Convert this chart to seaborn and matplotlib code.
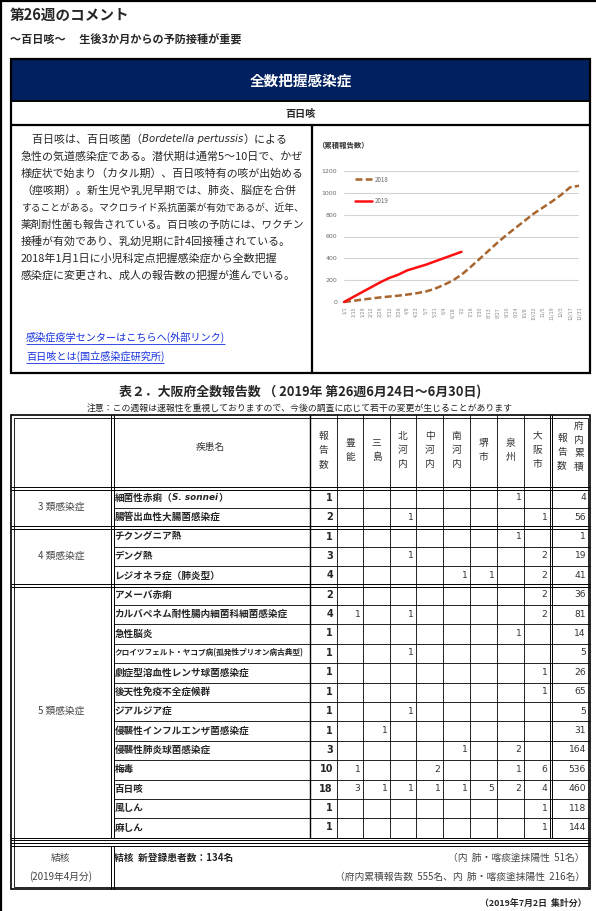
import numpy as np
import pandas as pd
import matplotlib
matplotlib.use("Agg")
import matplotlib.pyplot as plt
from matplotlib.patches import Rectangle
import seaborn as sns

# ---------------- chart data ----------------
chart_dates = ["1/1", "1/15", "1/29", "2/12", "2/26", "3/12", "3/26", "4/9", "4/23",
               "5/7", "5/21", "6/4", "6/18", "7/2", "7/16", "7/30", "8/13", "8/27",
               "9/10", "9/24", "10/8", "10/22", "11/5", "11/19", "12/3", "12/17", "12/31"]
cum_2018 = [0, 10, 22, 32, 42, 50, 58, 68, 80, 95, 120, 155, 195, 250, 320, 395, 470,
            545, 615, 680, 745, 810, 865, 920, 980, 1050, 1065]
cum_2019 = [0, 45, 90, 135, 180, 220, 250, 290, 315, 340, 370, 400, 430, 460]
chart_years = ["2018", "2019"]
y_ticks = [0, 200, 400, 600, 800, 1000, 1200]

# ---------------- table data ----------------
group_names = ["3 類感染症", "4 類感染症", "5 類感染症"]
group_sizes = [2, 3, 13]
diseases = ["細菌性赤痢（", "腸管出血性大腸菌感染症", "チクングニア熱", "デング熱",
            "レジオネラ症（肺炎型）", "アメーバ赤痢", "カルバペネム耐性腸内細菌科細菌感染症",
            "急性脳炎", "クロイツフェルト・ヤコブ病(孤発性プリオン病古典型)",
            "劇症型溶血性レンサ球菌感染症", "後天性免疫不全症候群", "ジアルジア症",
            "侵襲性インフルエンザ菌感染症", "侵襲性肺炎球菌感染症", "梅毒", "百日咳",
            "風しん", "麻しん"]
col_headers = ["報告数", "豊能", "三島", "北河内", "中河内", "南河内", "堺市", "泉州", "大阪市"]
N = None
reports = [1, 2, 1, 3, 4, 2, 4, 1, 1, 1, 1, 1, 1, 3, 10, 18, 1, 1]
toyono = [N, N, N, N, N, N, 1, N, N, N, N, N, N, N, 1, 3, N, N]
mishima = [N, N, N, N, N, N, N, N, N, N, N, N, 1, N, N, 1, N, N]
kitakawachi = [N, 1, N, 1, N, N, 1, N, 1, N, N, 1, N, N, N, 1, N, N]
nakakawachi = [N, N, N, N, N, N, N, N, N, N, N, N, N, N, 2, 1, N, N]
minamikawachi = [N, N, N, N, 1, N, N, N, N, N, N, N, N, 1, N, 1, N, N]
sakai = [N, N, N, N, 1, N, N, N, N, N, N, N, N, N, N, 5, N, N]
senshu = [1, N, 1, N, N, N, N, 1, N, N, N, N, N, 2, 1, 2, N, N]
osaka_city = [N, 1, N, 2, 2, 2, 2, N, N, 1, 1, N, N, N, 6, 4, 1, 1]
cumulative = [4, 56, 1, 19, 41, 36, 81, 14, 5, 26, 65, 5, 31, 164, 536, 460, 118, 144]
region_cols = [toyono, mishima, kitakawachi, nakakawachi, minamikawachi, sakai,
               senshu, osaka_city]

# ---------------- setup ----------------
sns.set_style("white")
JP = ["Noto Sans CJK JP", "DejaVu Sans"]
plt.rcParams["font.family"] = JP

W, H = 596, 911
fig = plt.figure(figsize=(W / 100, H / 100), dpi=100)
page = fig.add_axes([0, 0, 1, 1])
page.set_xlim(0, W)
page.set_ylim(H, 0)
page.axis("off")
renderer = fig.canvas.get_renderer()


def T(x, y, s, size, **kw):
    kw.setdefault("va", "center")
    kw.setdefault("ha", "left")
    size = kw.pop("fontsize", size)
    return page.text(x, y, s, fontsize=size, **kw)


def run(x, y, parts, size, **common):
    for s, extra in parts:
        t = T(x, y, s, size, **{**common, **extra})
        x += t.get_window_extent(renderer).width
    return x


def hline(x0, x1, y, lw=0.6, c="black"):
    page.plot([x0, x1], [y, y], color=c, lw=lw, solid_capstyle="butt")


def vline(x, y0, y1, lw=0.6, c="black"):
    page.plot([x, x], [y0, y1], color=c, lw=lw, solid_capstyle="butt")


# page frame
hline(0, W, 1.2, lw=1.6)
vline(1.2, 0, H, lw=1.6)

# header texts
T(10, 15, "第26週のコメント", 10.5, weight="bold")
T(10, 40, "～百日咳～　 生後3か月からの予防接種が重要", 8.0, weight="bold")

# main box
BX0, BX1 = 11, 590
DIV = 312
page.add_patch(Rectangle((BX0, 59), BX1 - BX0, 41, color="#002060", lw=0))
T((BX0 + BX1) / 2, 80.5, "全数把握感染症", 10.5, weight="bold", color="white", ha="center")
T((BX0 + BX1) / 2, 113.5, "百日咳", 7.3, weight="bold", ha="center")
page.add_patch(Rectangle((BX0, 59), BX1 - BX0, 373 - 59, fill=False, lw=1.6, ec="black"))
hline(BX0, BX1, 101, lw=1.4)
hline(BX0, BX1, 125, lw=1.6)
vline(DIV, 125, 373, lw=1.6)

# left body text
body = [
    "急性の気道感染症である。潜伏期は通常5～10日で、かぜ",
    "様症状で始まり（カタル期）、百日咳特有の咳が出始める",
    "（痙咳期）。新生児や乳児早期では、肺炎、脳症を合併",
    "することがある。マクロライド系抗菌薬が有効であるが、近年、",
    "薬剤耐性菌も報告されている。百日咳の予防には、ワクチン",
    "接種が有効であり、乳幼児期に計4回接種されている。",
    "2018年1月1日に小児科定点把握感染症から全数把握",
    "感染症に変更され、成人の報告数の把握が進んでいる。",
]
FS = 7.9
TX, TMAX = 21, 306
y0, dy = 139.5, 17.0
first_parts = [("　百日咳は、百日咳菌（", {}),
               ("Bordetella pertussis", {"family": ["DejaVu Sans"], "style": "italic",
                                         "fontsize": FS * 0.92}),
               ("）による", {})]
# measure the first line, then draw it at a size that fits the cell
probe = [T(0, -50, s, FS, **e) for s, e in first_parts]
wsum = sum(p.get_window_extent(renderer).width for p in probe)
for p in probe:
    p.remove()
k1 = min(1.0, (TMAX - TX) / wsum)
run(TX, y0, [(s, {**e, "fontsize": e.get("fontsize", FS) * k1}) for s, e in first_parts],
    FS * k1, color="#262626")
for i, s in enumerate(body):
    t = T(TX, y0 + dy * (i + 1), s, FS, color="#262626")
    w = t.get_window_extent(renderer).width
    if w > TMAX - TX:
        t.set_fontsize(FS * (TMAX - TX) / w)

for y, s in [(337.5, "感染症疫学センターはこちらへ(外部リンク)"), (356.5, "百日咳とは(国立感染症研究所)")]:
    t = T(26, y, s, 7.3, color="#1530E0")
    w = t.get_window_extent(renderer).width
    hline(26, 26 + w, y + 6, lw=0.6, c="#1530E0")

# chart caption
T(317, 145, "（累積報告数）", 5.3, weight="bold", color="#333333")

# ---------------- chart ----------------
ax = fig.add_axes([344 / W, 1 - 302 / H, (579 - 344) / W, (302 - 171) / H])
ax.set_facecolor("none")
df = pd.DataFrame({
    "idx": list(range(len(cum_2018))) + list(range(len(cum_2019))),
    "value": cum_2018 + cum_2019,
    "year": [chart_years[0]] * len(cum_2018) + [chart_years[1]] * len(cum_2019),
})
sns.lineplot(data=df, x="idx", y="value", hue="year", style="year",
             palette={"2018": "#A8652E", "2019": "#FF1010"},
             dashes={"2018": (2.8, 1.3), "2019": ""}, linewidth=1.8, ax=ax)
for l in ax.lines:
    l.set_clip_on(False)
ax.set_xlim(0, len(chart_dates) - 1)
ax.set_ylim(0, 1200)
ax.set_yticks(y_ticks)
ax.set_yticklabels([str(v) for v in y_ticks], fontsize=4.5, color="#6a6a6a",
                   family=["DejaVu Sans"])
ax.set_xticks(range(len(chart_dates)))
ax.set_xticklabels(chart_dates, rotation=90, fontsize=3.4, color="#8a8a8a",
                   family=["DejaVu Sans"])
ax.tick_params(axis="y", length=0, pad=5)
ax.tick_params(axis="x", length=0, pad=3.5)
for sp in ax.spines.values():
    sp.set_visible(False)
ax.grid(axis="y", color="#D4D4D4", lw=0.8)
ax.grid(axis="x", visible=False)
ax.set_xlabel("")
ax.set_ylabel("")
h, lab = ax.get_legend_handles_labels()
leg = ax.legend(h, lab, loc="upper left", bbox_to_anchor=(0.045, 0.965), frameon=False,
                fontsize=4.5, handlelength=2.8, handletextpad=0.4, labelspacing=2.2,
                borderpad=0, borderaxespad=0)
for tx in leg.get_texts():
    tx.set_color("#6a6a6a")

# ---------------- table ----------------
T(300, 392, "表２．大阪府全数報告数 （ 2019年 第26週6月24日～6月30日)", 9.3,
  weight="bold", ha="center")
T(300, 408.5, "注意：この週報は速報性を重視しておりますので、今後の調査に応じて若干の変更が生じることがあります",
  6.4, ha="center", color="#222222")

cols = [11, 111, 310, 337, 363, 390, 416, 443, 470, 497, 524, 550, 590]
TOP, HB = 415, 487
RH = 19.4
row_top = [HB + 1.5 + RH * i for i in range(len(diseases))]
DATA_BOT = HB + 1.5 + RH * len(diseases)
TB0, TB1 = DATA_BOT + 8, 889

# outer double border
page.add_patch(Rectangle((cols[0], TOP), cols[-1] - cols[0], TB1 - TOP, fill=False,
                         lw=1.2, ec="black"))
page.add_patch(Rectangle((cols[0] + 2.5, TOP + 2.5), cols[-1] - cols[0] - 5,
                         TB1 - TOP - 5, fill=False, lw=0.6, ec="black"))

# vertical lines
vline(cols[1], TOP, DATA_BOT, lw=0.7)
vline(cols[1] + 2.5, TOP, DATA_BOT, lw=0.7)
vline(cols[1], TB0, TB1, lw=0.7)
vline(cols[1] + 2.5, TB0, TB1, lw=0.7)
vline(cols[2], TOP, DATA_BOT, lw=1.0)
for x in cols[3:11]:
    vline(x, TOP, DATA_BOT, lw=0.6)
vline(cols[11], TOP, DATA_BOT, lw=0.7)
vline(cols[11] + 2.2, TOP, DATA_BOT, lw=0.7)

# horizontal lines
hline(cols[0], cols[-1], HB, lw=0.7)
hline(cols[0], cols[-1], HB + 2.5, lw=0.7)
hline(cols[0], cols[-1], DATA_BOT, lw=0.7)
hline(cols[0], cols[-1], DATA_BOT + 2.5, lw=0.7)
hline(cols[0], cols[-1], TB0, lw=0.7)
hline(cols[0], cols[-1], TB0 - 2.5, lw=0.7)

# header labels
T((cols[1] + cols[2]) / 2, 447, "疾患名", 7.0, ha="center", color="#333333")
for j, hd in enumerate(col_headers):
    cx = (cols[2 + j] + cols[3 + j]) / 2
    n = len(hd)
    step = 14.5 if n == 3 else 13.5
    for k, ch in enumerate(hd):
        T(cx, 450 + (k - (n - 1) / 2) * step, ch, 7.0, ha="center", color="#333333")
for k, ch in enumerate("報告数"):
    T(cols[11] + 12, 438 + k * 13.5, ch, 7.0, ha="center", color="#333333")
for k, ch in enumerate("府内累積"):
    T(cols[11] + 29, 426 + k * 13.5, ch, 7.0, ha="center", color="#333333")

# group rows
start = 0
for gname, gsize in zip(group_names, group_sizes):
    gt = row_top[start]
    gb = gt + RH * gsize
    if start > 0:
        hline(cols[0], cols[-1], gt - 1.2, lw=0.7)
        hline(cols[0], cols[-1], gt + 1.2, lw=0.7)
    for r in range(start + 1, start + gsize):
        hline(cols[1] + 2.5, cols[-1], row_top[r], lw=0.6)
    T((cols[0] + cols[1]) / 2, (gt + gb) / 2 - 1, gname, 7.0, ha="center", color="#444444")
    start += gsize

NUM = ["DejaVu Sans"]
for i, name in enumerate(diseases):
    yc = row_top[i] + RH / 2 - 0.5
    if i == 0:
        run(cols[1] + 3.5, yc, [(name, {}),
                                ("S. sonnei", {"family": NUM, "style": "italic",
                                               "fontsize": 6.4}),
                                ("）", {})], 6.9, weight="bold")
    else:
        fs = 5.5 if len(name) > 20 else 6.9
        T(cols[1] + 3.5, yc, name, fs, weight="bold")
    T(cols[3] - 4, yc, str(reports[i]), 7.0, ha="right", weight="bold", family=NUM)
    for j, col in enumerate(region_cols):
        if col[i] is not None:
            T(cols[4 + j] - 2.5, yc, str(col[i]), 6.6, ha="right", family=NUM,
              color="#333333")
    T(cols[-1] - 4, yc, str(cumulative[i]), 6.6, ha="right", family=NUM, color="#333333")

# tuberculosis section
ty1, ty2 = TB0 + 12, TB0 + 31
T((cols[0] + cols[1]) / 2, ty1, "結核", 7.0, ha="center", color="#444444")
T((cols[0] + cols[1]) / 2, ty2, "(2019年4月分)", 7.0, ha="center", color="#444444")
T(cols[1] + 3.5, ty1, "結核  新登録患者数：134名", 7.0, weight="bold")
T(cols[-1] - 5, ty1, "（内  肺・喀痰塗抹陽性  51名）", 7.0, ha="right", color="#444444")
T(cols[-1] - 5, ty2, "（府内累積報告数  555名、内  肺・喀痰塗抹陽性  216名）", 7.0,
  ha="right", color="#444444")

T(587, 903, "（2019年7月2日  集計分）", 6.4, ha="right", weight="bold")

fig.savefig("out.png", dpi=100)
